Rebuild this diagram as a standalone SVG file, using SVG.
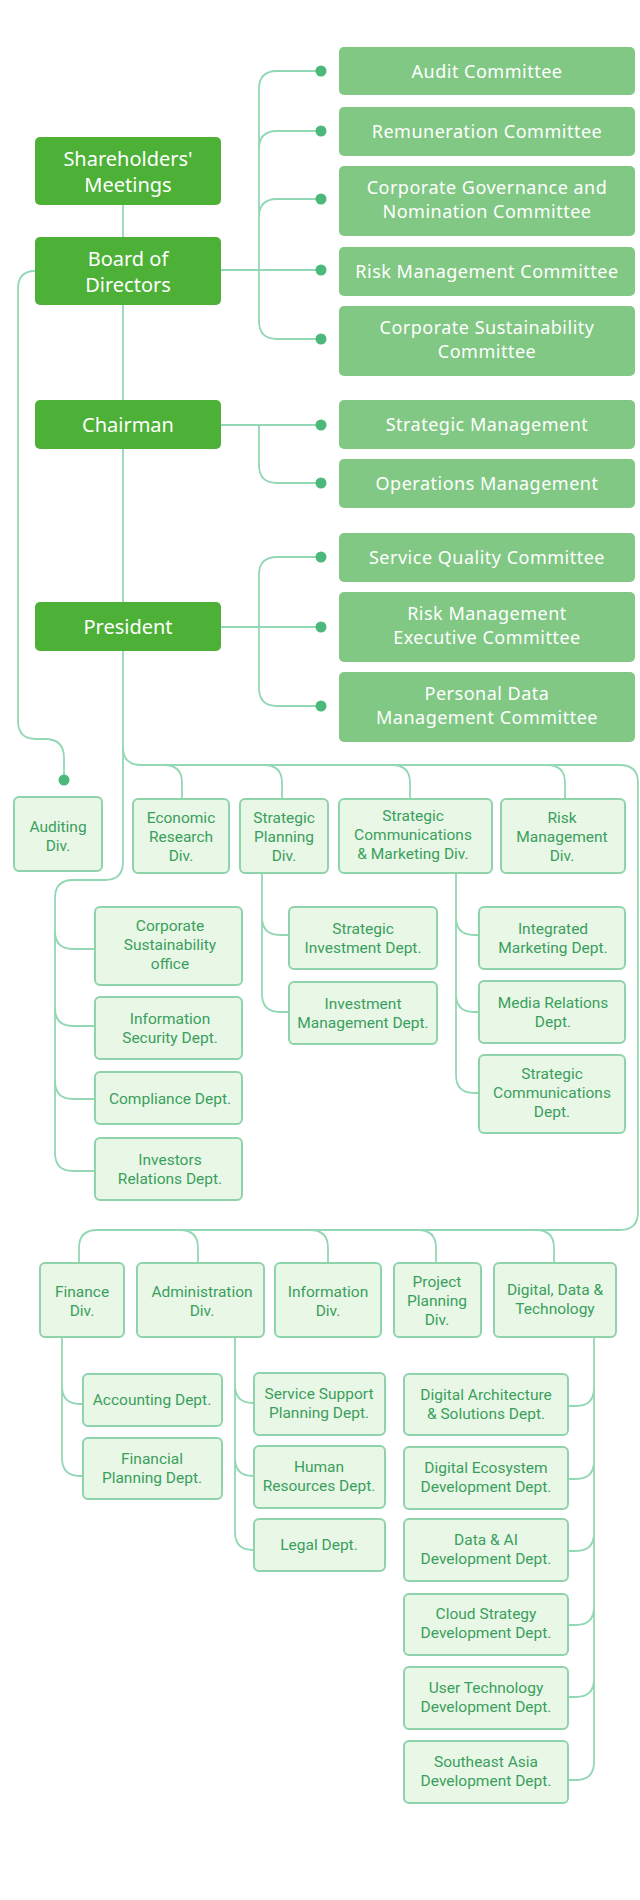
<svg xmlns="http://www.w3.org/2000/svg" width="640" height="1900" viewBox="0 0 640 1900">
<style>
.dk{fill:#4cb136}
.lt{fill:#81c884}
.sm{fill:#e9f7e7;stroke:#8fd3ad;stroke-width:2}
.wt{fill:#fff;font-family:"Noto Sans",sans-serif;text-anchor:middle}
.w1{font-size:20px}
.w2{font-size:18px;letter-spacing:0.5px}
.gt{fill:#3a9f5c;font-family:Roboto,sans-serif;font-size:15.5px;text-anchor:middle}
.ln{fill:none;stroke:#93d8b4;stroke-width:1.8}
.dot{fill:#4cb87a}
</style>
<rect width="640" height="1900" fill="#fff"/>
<g id="connectors">
<path class="ln" d="M123,205V237M123,305V400M123,449V602M123,651V862Q123,880 105,880H73Q55,880 55,898V1153Q55,1171 73,1171H95"/>
<path class="ln" d="M55,931Q55,949 73,949H95M55,1008Q55,1026 73,1026H95M55,1081Q55,1099 73,1099H95"/>
<path class="ln" d="M221,270H321M259,89V321Q259,339 277,339H321M259,89Q259,71 277,71H321M259,149Q259,131 277,131H321M259,217Q259,199 277,199H321"/>
<path class="ln" d="M221,425H321M259,425V465Q259,483 277,483H321"/>
<path class="ln" d="M221,627H321M259,575V688Q259,706 277,706H321M259,575Q259,557 277,557H321"/>
<path class="ln" d="M35,271Q18,271 18,289V721Q18,739 36,739H45Q64,739 64,758V780"/>
<path class="ln" d="M123,747Q123,765 141,765H620Q638,765 638,783V1212Q638,1230 620,1230H97Q79,1230 79,1248V1263"/>
<path class="ln" d="M164,765Q182,765 182,783V799M264,765Q282,765 282,783V799M392,765Q410,765 410,783V799M547,765Q565,765 565,783V799"/>
<path class="ln" d="M180,1230Q198,1230 198,1248V1263M310,1230Q328,1230 328,1248V1263M418,1230Q436,1230 436,1248V1263M536,1230Q554,1230 554,1248V1263"/>
<path class="ln" d="M262,873V994Q262,1012 280,1012H289M262,917Q262,935 280,935H289"/>
<path class="ln" d="M456,873V1075Q456,1093 474,1093H479M456,917Q456,935 474,935H479M456,994Q456,1012 474,1012H479"/>
<path class="ln" d="M62,1337V1458Q62,1476 80,1476H83M62,1386Q62,1404 80,1404H83"/>
<path class="ln" d="M235,1337V1532Q235,1550 253,1550H254M235,1385Q235,1403 253,1403H254M235,1458Q235,1476 253,1476H254"/>
<path class="ln" d="M594,1337V1762Q594,1780 576,1780H569M594,1388Q594,1406 576,1406H569M594,1461Q594,1479 576,1479H569M594,1533Q594,1551 576,1551H569M594,1607Q594,1625 576,1625H569M594,1679Q594,1697 576,1697H569"/>
<g class="dot"><circle cx="321" cy="71" r="5.5"/><circle cx="321" cy="131" r="5.5"/><circle cx="321" cy="199" r="5.5"/><circle cx="321" cy="270" r="5.5"/><circle cx="321" cy="339" r="5.5"/><circle cx="321" cy="425" r="5.5"/><circle cx="321" cy="483" r="5.5"/><circle cx="321" cy="557" r="5.5"/><circle cx="321" cy="627" r="5.5"/><circle cx="321" cy="706" r="5.5"/><circle cx="64" cy="780" r="5.5"/></g>
</g>
<g id="shareholders"><rect class="dk" x="35" y="137" width="186" height="68" rx="5"/><text class="wt w1" x="128" y="166">Shareholders'</text><text class="wt w1" x="128" y="192">Meetings</text></g>
<g id="board"><rect class="dk" x="35" y="237" width="186" height="68" rx="5"/><text class="wt w1" x="128" y="266">Board of</text><text class="wt w1" x="128" y="292">Directors</text></g>
<g id="chairman"><rect class="dk" x="35" y="400" width="186" height="49" rx="5"/><text class="wt w1" x="128" y="432">Chairman</text></g>
<g id="president"><rect class="dk" x="35" y="602" width="186" height="49" rx="5"/><text class="wt w1" x="128" y="634">President</text></g>
<g id="audit"><rect class="lt" x="339" y="47" width="296" height="48" rx="5"/><text class="wt w2" x="487" y="78">Audit Committee</text></g>
<g id="remuneration"><rect class="lt" x="339" y="107" width="296" height="49" rx="5"/><text class="wt w2" x="487" y="138">Remuneration Committee</text></g>
<g id="corpgov"><rect class="lt" x="339" y="166" width="296" height="70" rx="5"/><text class="wt w2" x="487" y="194">Corporate Governance and</text><text class="wt w2" x="487" y="218">Nomination Committee</text></g>
<g id="riskcom"><rect class="lt" x="339" y="247" width="296" height="49" rx="5"/><text class="wt w2" x="487" y="278">Risk Management Committee</text></g>
<g id="corpsust"><rect class="lt" x="339" y="306" width="296" height="70" rx="5"/><text class="wt w2" x="487" y="334">Corporate Sustainability</text><text class="wt w2" x="487" y="358">Committee</text></g>
<g id="stratmgmt"><rect class="lt" x="339" y="400" width="296" height="49" rx="5"/><text class="wt w2" x="487" y="431">Strategic Management</text></g>
<g id="opsmgmt"><rect class="lt" x="339" y="459" width="296" height="49" rx="5"/><text class="wt w2" x="487" y="490">Operations Management</text></g>
<g id="svcq"><rect class="lt" x="339" y="533" width="296" height="49" rx="5"/><text class="wt w2" x="487" y="564">Service Quality Committee</text></g>
<g id="riskexec"><rect class="lt" x="339" y="592" width="296" height="70" rx="5"/><text class="wt w2" x="487" y="620">Risk Management</text><text class="wt w2" x="487" y="644">Executive Committee</text></g>
<g id="personal"><rect class="lt" x="339" y="672" width="296" height="70" rx="5"/><text class="wt w2" x="487" y="700">Personal Data</text><text class="wt w2" x="487" y="724">Management Committee</text></g>
<g id="auditing"><rect class="sm" x="14" y="797" width="88" height="74" rx="5"/><text class="gt" x="58" y="832">Auditing</text><text class="gt" x="58" y="851">Div.</text></g>
<g id="econ"><rect class="sm" x="133" y="799" width="96" height="74" rx="5"/><text class="gt" x="181" y="823">Economic</text><text class="gt" x="181" y="842">Research</text><text class="gt" x="181" y="861">Div.</text></g>
<g id="stratplan"><rect class="sm" x="240" y="799" width="88" height="74" rx="5"/><text class="gt" x="284" y="823">Strategic</text><text class="gt" x="284" y="842">Planning</text><text class="gt" x="284" y="861">Div.</text></g>
<g id="scm"><rect class="sm" x="339" y="799" width="153" height="74" rx="5"/><text class="gt" x="413" y="821">Strategic</text><text class="gt" x="413" y="840">Communications</text><text class="gt" x="413" y="859">&amp; Marketing Div.</text></g>
<g id="riskdiv"><rect class="sm" x="501" y="799" width="124" height="74" rx="5"/><text class="gt" x="562" y="823">Risk</text><text class="gt" x="562" y="842">Management</text><text class="gt" x="562" y="861">Div.</text></g>
<g id="cso"><rect class="sm" x="95" y="907" width="147" height="78" rx="5"/><text class="gt" x="170" y="931">Corporate</text><text class="gt" x="170" y="950">Sustainability</text><text class="gt" x="170" y="969">office</text></g>
<g id="infosec"><rect class="sm" x="95" y="997" width="147" height="62" rx="5"/><text class="gt" x="170" y="1024">Information</text><text class="gt" x="170" y="1043">Security Dept.</text></g>
<g id="compliance"><rect class="sm" x="95" y="1072" width="147" height="52" rx="5"/><text class="gt" x="170" y="1104">Compliance Dept.</text></g>
<g id="investors"><rect class="sm" x="95" y="1138" width="147" height="62" rx="5"/><text class="gt" x="170" y="1165">Investors</text><text class="gt" x="170" y="1184">Relations Dept.</text></g>
<g id="stratinv"><rect class="sm" x="289" y="907" width="148" height="62" rx="5"/><text class="gt" x="363" y="934">Strategic</text><text class="gt" x="363" y="953">Investment Dept.</text></g>
<g id="invmgmt"><rect class="sm" x="289" y="982" width="148" height="62" rx="5"/><text class="gt" x="363" y="1009">Investment</text><text class="gt" x="363" y="1028">Management Dept.</text></g>
<g id="intmkt"><rect class="sm" x="479" y="907" width="146" height="62" rx="5"/><text class="gt" x="553" y="934">Integrated</text><text class="gt" x="553" y="953">Marketing Dept.</text></g>
<g id="media"><rect class="sm" x="479" y="981" width="146" height="62" rx="5"/><text class="gt" x="553" y="1008">Media Relations</text><text class="gt" x="553" y="1027">Dept.</text></g>
<g id="stratcomm"><rect class="sm" x="479" y="1055" width="146" height="78" rx="5"/><text class="gt" x="552" y="1079">Strategic</text><text class="gt" x="552" y="1098">Communications</text><text class="gt" x="552" y="1117">Dept.</text></g>
<g id="finance"><rect class="sm" x="40" y="1263" width="84" height="74" rx="5"/><text class="gt" x="82" y="1297">Finance</text><text class="gt" x="82" y="1316">Div.</text></g>
<g id="admin"><rect class="sm" x="137" y="1263" width="127" height="74" rx="5"/><text class="gt" x="202" y="1297">Administration</text><text class="gt" x="202" y="1316">Div.</text></g>
<g id="info"><rect class="sm" x="275" y="1263" width="106" height="74" rx="5"/><text class="gt" x="328" y="1297">Information</text><text class="gt" x="328" y="1316">Div.</text></g>
<g id="projplan"><rect class="sm" x="394" y="1263" width="87" height="74" rx="5"/><text class="gt" x="437" y="1287">Project</text><text class="gt" x="437" y="1306">Planning</text><text class="gt" x="437" y="1325">Div.</text></g>
<g id="digital"><rect class="sm" x="494" y="1263" width="122" height="74" rx="5"/><text class="gt" x="555" y="1295">Digital, Data &amp;</text><text class="gt" x="555" y="1314">Technology</text></g>
<g id="accounting"><rect class="sm" x="83" y="1374" width="139" height="52" rx="5"/><text class="gt" x="152" y="1405">Accounting Dept.</text></g>
<g id="finplan"><rect class="sm" x="83" y="1438" width="139" height="61" rx="5"/><text class="gt" x="152" y="1464">Financial</text><text class="gt" x="152" y="1483">Planning Dept.</text></g>
<g id="svcsupport"><rect class="sm" x="254" y="1373" width="131" height="62" rx="5"/><text class="gt" x="319" y="1399">Service Support</text><text class="gt" x="319" y="1418">Planning Dept.</text></g>
<g id="hr"><rect class="sm" x="254" y="1446" width="131" height="62" rx="5"/><text class="gt" x="319" y="1472">Human</text><text class="gt" x="319" y="1491">Resources Dept.</text></g>
<g id="legal"><rect class="sm" x="254" y="1519" width="131" height="52" rx="5"/><text class="gt" x="319" y="1550">Legal Dept.</text></g>
<g id="digarch"><rect class="sm" x="404" y="1374" width="164" height="61" rx="5"/><text class="gt" x="486" y="1400">Digital Architecture</text><text class="gt" x="486" y="1419">&amp; Solutions Dept.</text></g>
<g id="digeco"><rect class="sm" x="404" y="1447" width="164" height="62" rx="5"/><text class="gt" x="486" y="1473">Digital Ecosystem</text><text class="gt" x="486" y="1492">Development Dept.</text></g>
<g id="dataai"><rect class="sm" x="404" y="1519" width="164" height="62" rx="5"/><text class="gt" x="486" y="1545">Data &amp; AI</text><text class="gt" x="486" y="1564">Development Dept.</text></g>
<g id="cloud"><rect class="sm" x="404" y="1594" width="164" height="61" rx="5"/><text class="gt" x="486" y="1619">Cloud Strategy</text><text class="gt" x="486" y="1638">Development Dept.</text></g>
<g id="usertech"><rect class="sm" x="404" y="1667" width="164" height="62" rx="5"/><text class="gt" x="486" y="1693">User Technology</text><text class="gt" x="486" y="1712">Development Dept.</text></g>
<g id="sea"><rect class="sm" x="404" y="1741" width="164" height="62" rx="5"/><text class="gt" x="486" y="1767">Southeast Asia</text><text class="gt" x="486" y="1786">Development Dept.</text></g>
</svg>
